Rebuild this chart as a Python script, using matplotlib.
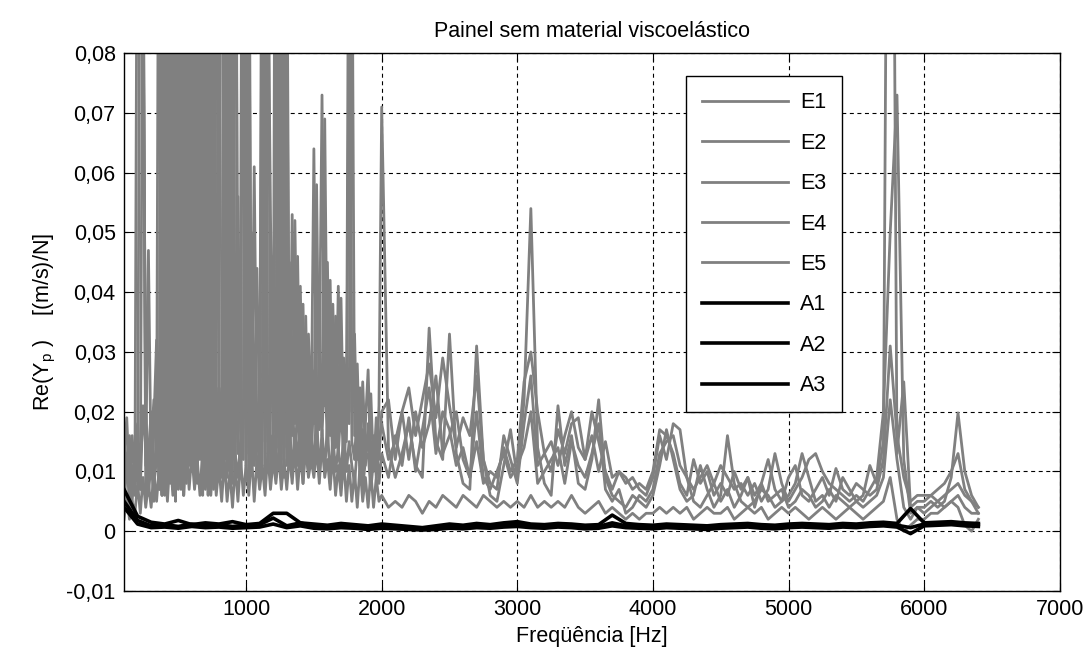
import numpy as np
import matplotlib
matplotlib.use("Agg")
import matplotlib.pyplot as plt

plt.rcParams['font.family'] = ['Liberation Sans', 'DejaVu Sans']
plt.rcParams['mathtext.fontset'] = 'custom'
plt.rcParams['mathtext.rm'] = 'Liberation Sans'
plt.rcParams['mathtext.it'] = 'Liberation Sans'

# frequency grids [Hz]: 20 Hz steps up to 2 kHz, 50 Hz above; A curves every 100 Hz
freq = np.concatenate([np.arange(100, 2000, 20), np.arange(2000, 6401, 50)])
freq_a = np.arange(100, 6401, 100)

e1 = [0.012, 0.019, 0.008, 0.011, 0.006,
      0.13, 0.16, 0.09, 0.021, 0.009,
      0.014, 0.022, 0.011, 0.15, 0.006,
      0.21, 0.008, 0.18, 0.007, 0.24,
      0.009, 0.19, 0.006, 0.22, 0.011,
      0.26, 0.008, 0.17, 0.012, 0.2,
      0.009, 0.23, 0.007, 0.15, 0.01,
      0.024, 0.011, 0.14, 0.009, 0.19,
      0.012, 0.16, 0.013, 0.048, 0.18,
      0.011, 0.12, 0.014, 0.061, 0.016,
      0.012, 0.14, 0.009, 0.1, 0.053,
      0.013, 0.17, 0.011, 0.13, 0.009,
      0.11, 0.014, 0.053, 0.018, 0.046,
      0.015, 0.038, 0.012, 0.033, 0.017,
      0.064, 0.019, 0.026, 0.073, 0.021,
      0.045, 0.016, 0.038, 0.014, 0.041,
      0.018, 0.029, 0.015, 0.13, 0.02,
      0.033, 0.012, 0.024, 0.01, 0.018,
      0.027, 0.011, 0.016, 0.009, 0.021,
      # 2000 Hz ->
      0.071, 0.014, 0.009, 0.013, 0.018, 0.011, 0.009, 0.034, 0.015, 0.012,
      0.033, 0.013, 0.008, 0.007, 0.031, 0.012, 0.006, 0.005, 0.011, 0.017,
      0.009, 0.022, 0.054, 0.014, 0.008, 0.006, 0.021, 0.011, 0.016, 0.008,
      0.007, 0.012, 0.022, 0.009, 0.006, 0.005, 0.004, 0.006, 0.005, 0.004,
      0.006, 0.011, 0.017, 0.012, 0.007, 0.005, 0.006, 0.011, 0.007, 0.004,
      0.006, 0.016, 0.008, 0.005, 0.004, 0.005, 0.007, 0.006, 0.004, 0.005,
      0.006, 0.008, 0.013, 0.009, 0.005, 0.006, 0.004, 0.006, 0.005, 0.004,
      0.005, 0.006, 0.011, 0.008, 0.015, 0.21, 0.013, 0.025, 0.004, 0.005,
      0.005, 0.006, 0.005, 0.006, 0.007, 0.008, 0.006, 0.005, 0.004]

e2 = [0.018, 0.009, 0.014, 0.005, 0.012,
      0.008, 0.12, 0.1, 0.011, 0.047,
      0.009, 0.018, 0.032, 0.007, 0.19,
      0.006, 0.2, 0.008, 0.17, 0.005,
      0.23, 0.007, 0.21, 0.009, 0.18,
      0.01, 0.25, 0.008, 0.19, 0.012,
      0.21, 0.006, 0.16, 0.011, 0.14,
      0.009, 0.17, 0.012, 0.21, 0.01,
      0.15, 0.011, 0.056, 0.017, 0.012,
      0.14, 0.013, 0.05, 0.015, 0.044,
      0.018, 0.011, 0.16, 0.012, 0.021,
      0.046, 0.013, 0.15, 0.01, 0.12,
      0.014, 0.045, 0.016, 0.052, 0.019,
      0.041, 0.014, 0.036, 0.011, 0.029,
      0.018, 0.058, 0.017, 0.021, 0.069,
      0.02, 0.042, 0.013, 0.036, 0.017,
      0.039, 0.014, 0.022, 0.018, 0.11,
      0.016, 0.028, 0.011, 0.025, 0.013,
      0.014, 0.023, 0.01, 0.019, 0.012,
      # 2000 Hz ->
      0.02, 0.022, 0.012, 0.02, 0.012, 0.02, 0.014, 0.018, 0.026, 0.013,
      0.016, 0.02, 0.012, 0.009, 0.015, 0.008, 0.01, 0.009, 0.014, 0.01,
      0.012, 0.025, 0.03, 0.02, 0.013, 0.015, 0.011, 0.016, 0.02, 0.014,
      0.012, 0.016, 0.01, 0.015, 0.009, 0.01, 0.008, 0.009, 0.007, 0.006,
      0.009, 0.016, 0.012, 0.018, 0.017, 0.009, 0.007, 0.009, 0.011, 0.008,
      0.011, 0.009, 0.007, 0.008, 0.006, 0.008, 0.005, 0.007, 0.013, 0.008,
      0.005, 0.007, 0.009, 0.012, 0.013, 0.01, 0.008, 0.007, 0.006, 0.005,
      0.006, 0.005, 0.007, 0.009, 0.02, 0.05, 0.073, 0.012, 0.003, 0.004,
      0.004, 0.005, 0.004, 0.005, 0.009, 0.0198, 0.01, 0.006, 0.004]

e3 = [0.007, 0.013, 0.004, 0.016, 0.009,
      0.015, 0.007, 0.11, 0.006, 0.013,
      0.02, 0.008, 0.012, 0.011, 0.13,
      0.012, 0.016, 0.14, 0.01, 0.15,
      0.013, 0.17, 0.011, 0.2, 0.014,
      0.16, 0.009, 0.22, 0.013, 0.18,
      0.011, 0.17, 0.012, 0.2, 0.008,
      0.015, 0.009, 0.018, 0.13, 0.012,
      0.11, 0.013, 0.009, 0.015, 0.13,
      0.009, 0.1, 0.012, 0.018, 0.011,
      0.013, 0.019, 0.12, 0.013, 0.016,
      0.011, 0.09, 0.014, 0.11, 0.01,
      0.09, 0.012, 0.024, 0.011, 0.022,
      0.012, 0.027, 0.013, 0.024, 0.011,
      0.024, 0.014, 0.031, 0.016, 0.028,
      0.014, 0.025, 0.011, 0.022, 0.013,
      0.021, 0.012, 0.017, 0.085, 0.015,
      0.012, 0.021, 0.009, 0.017, 0.011,
      0.018, 0.008, 0.014, 0.011, 0.015,
      # 2000 Hz ->
      0.018, 0.012, 0.015, 0.02, 0.024, 0.016, 0.022, 0.028, 0.019, 0.029,
      0.021, 0.014, 0.019, 0.016, 0.026, 0.012, 0.008, 0.007, 0.016, 0.012,
      0.008, 0.018, 0.026, 0.011, 0.013, 0.01, 0.017, 0.013, 0.018, 0.019,
      0.012, 0.02, 0.015, 0.01, 0.007, 0.01, 0.009, 0.007, 0.008, 0.007,
      0.01, 0.017, 0.016, 0.013, 0.008, 0.006, 0.012, 0.008, 0.01, 0.006,
      0.008, 0.006, 0.01, 0.007, 0.009, 0.006, 0.008, 0.012, 0.007, 0.005,
      0.009, 0.011, 0.006, 0.005, 0.007, 0.009, 0.006, 0.0105, 0.007, 0.006,
      0.008, 0.007, 0.006, 0.007, 0.012, 0.031, 0.016, 0.009, 0.005, 0.006,
      0.006, 0.006, 0.007, 0.008, 0.01, 0.013, 0.007, 0.005, 0.003]

e4 = [0.004, 0.011, 0.016, 0.006, 0.013,
      0.018, 0.007, 0.021, 0.014, 0.006,
      0.012, 0.005, 0.019, 0.007, 0.024,
      0.13, 0.009, 0.016, 0.2, 0.007,
      0.012, 0.027, 0.15, 0.008, 0.17,
      0.011, 0.016, 0.01, 0.18, 0.006,
      0.16, 0.012, 0.19, 0.007, 0.018,
      0.009, 0.015, 0.1, 0.011, 0.017,
      0.008, 0.14, 0.016, 0.01, 0.019,
      0.12, 0.008, 0.017, 0.011, 0.02,
      0.008, 0.11, 0.015, 0.13, 0.01,
      0.016, 0.009, 0.1, 0.012, 0.1,
      0.011, 0.019, 0.009, 0.017, 0.011,
      0.021, 0.008, 0.018, 0.01, 0.016,
      0.011, 0.02, 0.009, 0.017, 0.01,
      0.018, 0.008, 0.016, 0.01, 0.014,
      0.009, 0.017, 0.01, 0.015, 0.011,
      0.008, 0.014, 0.016, 0.007, 0.012,
      0.013, 0.007, 0.012, 0.016, 0.008,
      # 2000 Hz ->
      0.013, 0.009, 0.016, 0.011, 0.019, 0.01, 0.017, 0.024, 0.013, 0.02,
      0.017, 0.011, 0.014, 0.009, 0.02, 0.009, 0.007, 0.01, 0.013, 0.009,
      0.011, 0.014, 0.02, 0.008, 0.01, 0.012, 0.014, 0.008, 0.015, 0.011,
      0.009, 0.013, 0.018, 0.007, 0.005, 0.007, 0.003, 0.004, 0.006, 0.005,
      0.007, 0.013, 0.015, 0.016, 0.011, 0.009, 0.005, 0.004, 0.006, 0.008,
      0.005, 0.007, 0.004, 0.006, 0.009, 0.004, 0.008, 0.005, 0.006, 0.007,
      0.004, 0.005, 0.007, 0.006, 0.004, 0.005, 0.007, 0.005, 0.009, 0.007,
      0.005, 0.004, 0.005, 0.006, 0.009, 0.022, 0.012, 0.004, 0.002, 0.004,
      0.003, 0.004, 0.005, 0.004, 0.005, 0.006, 0.004, 0.003, 0.003]

e5 = [0.002, 0.006, 0.002, 0.005, 0.003,
      0.008, 0.003, 0.009, 0.004, 0.008,
      0.004, 0.01, 0.005, 0.011, 0.006,
      0.012, 0.005, 0.013, 0.006, 0.012,
      0.007, 0.013, 0.006, 0.014, 0.007,
      0.013, 0.007, 0.012, 0.006, 0.014,
      0.007, 0.012, 0.006, 0.013, 0.006,
      0.011, 0.005, 0.012, 0.005, 0.01,
      0.004, 0.011, 0.005, 0.012, 0.006,
      0.011, 0.006, 0.013, 0.005, 0.012,
      0.007, 0.011, 0.006, 0.013, 0.007,
      0.012, 0.008, 0.013, 0.007, 0.012,
      0.007, 0.013, 0.008, 0.014, 0.007,
      0.013, 0.008, 0.014, 0.009, 0.012,
      0.009, 0.014, 0.008, 0.015, 0.009,
      0.012, 0.007, 0.013, 0.006, 0.011,
      0.006, 0.012, 0.005, 0.011, 0.005,
      0.01, 0.004, 0.011, 0.005, 0.009,
      0.004, 0.01, 0.004, 0.009, 0.005,
      # 2000 Hz ->
      0.006, 0.004, 0.005, 0.004, 0.006, 0.005, 0.003, 0.005, 0.004, 0.006,
      0.005, 0.004, 0.006, 0.005, 0.004, 0.006, 0.005, 0.004, 0.005, 0.004,
      0.005, 0.004, 0.006, 0.004, 0.005, 0.004, 0.005, 0.004, 0.006, 0.004,
      0.003, 0.004, 0.005, 0.003, 0.004, 0.003, 0.002, 0.003, 0.002, 0.003,
      0.003, 0.004, 0.003, 0.004, 0.003, 0.004, 0.002, 0.003, 0.004, 0.003,
      0.003, 0.004, 0.002, 0.003, 0.004, 0.003, 0.004, 0.002, 0.003, 0.004,
      0.003, 0.004, 0.003, 0.002, 0.003, 0.004, 0.003, 0.002, 0.003, 0.004,
      0.003, 0.002, 0.003, 0.004, 0.005, 0.009, 0.002, 0.0, 0.001, 0.002,
      0.002, 0.003, 0.003, 0.004, 0.005, 0.004, 0.001, 0.0, 0.002]

# Re(Yp) for the three A measurements
a1 = [0.007, 0.0025, 0.0015, 0.0012, 0.0018, 0.0011, 0.0014, 0.0012, 0.0016, 0.0011,
      0.0013, 0.003, 0.003, 0.0014, 0.0012, 0.001, 0.0013, 0.0011, 0.0009, 0.0012,
      0.001, 0.0008, 0.0006, 0.0009, 0.0012, 0.001, 0.0013, 0.0011, 0.0014, 0.0016,
      0.0012, 0.0011, 0.0013, 0.0012, 0.001, 0.0011, 0.0027, 0.0013, 0.0011, 0.001,
      0.0012, 0.0011, 0.001, 0.0009, 0.0011, 0.0012, 0.0013, 0.0011, 0.001, 0.0012,
      0.0013, 0.0012, 0.0011, 0.0013, 0.0012, 0.0014, 0.0015, 0.0013, 0.0038, 0.0014,
      0.0015, 0.0016, 0.0014, 0.0013]
a2 = [0.005, 0.0018, 0.0009, 0.0011, 0.0008, 0.0012, 0.0009, 0.0011, 0.0008, 0.001,
      0.0011, 0.0022, 0.0009, 0.0014, 0.0008, 0.0007, 0.0009, 0.0008, 0.0006, 0.0009,
      0.0007, 0.0005, 0.0004, 0.0006, 0.0008, 0.0007, 0.0009, 0.0008, 0.001, 0.0012,
      0.0009, 0.0008, 0.001, 0.0009, 0.0007, 0.0008, 0.0014, 0.0009, 0.0008, 0.0007,
      0.0009, 0.0008, 0.0007, 0.0006, 0.0008, 0.0009, 0.001, 0.0008, 0.0007, 0.0009,
      0.001, 0.0009, 0.0008, 0.001, 0.0009, 0.0011, 0.0012, 0.001, 0.0006, 0.0012,
      0.0013, 0.0014, 0.0012, 0.0011]
a3 = [0.004, 0.0012, 0.0006, 0.0007, 0.0005, 0.0008, 0.0006, 0.0007, 0.0005, 0.0006,
      0.0007, 0.0012, 0.0006, 0.0009, 0.0005, 0.0004, 0.0006, 0.0005, 0.0003, 0.0005,
      0.0004, 0.0003, 0.0002, 0.0003, 0.0005, 0.0004, 0.0006, 0.0005, 0.0007, 0.0008,
      0.0006, 0.0005, 0.0007, 0.0006, 0.0004, 0.0005, 0.0009, 0.0006, 0.0005, 0.0004,
      0.0006, 0.0005, 0.0004, 0.0003, 0.0005, 0.0006, 0.0007, 0.0005, 0.0004, 0.0006,
      0.0007, 0.0006, 0.0005, 0.0007, 0.0006, 0.0008, 0.0009, 0.0007, -0.0004, 0.0009,
      0.001, 0.0011, 0.0009, 0.0008]

e_labels = ['E1', 'E2', 'E3', 'E4', 'E5']
a_labels = ['A1', 'A2', 'A3']

xticks = [1000, 2000, 3000, 4000, 5000, 6000, 7000]
yticks = [-0.01, 0, 0.01, 0.02, 0.03, 0.04, 0.05, 0.06, 0.07, 0.08]
ytick_labels = ['-0,01', '0', '0,01', '0,02', '0,03', '0,04', '0,05', '0,06', '0,07', '0,08']

fs = 15.5
fig = plt.figure(figsize=(10.88, 6.57), dpi=100)
ax = fig.add_axes([0.114, 0.1005, 0.86, 0.8185])

for y, lab in zip([e1, e2, e3, e4, e5], e_labels):
    ax.plot(freq, y, color='#808080', lw=2.0, label=lab)
for y, lab in zip([a1, a2, a3], a_labels):
    ax.plot(freq_a, y, color='black', lw=2.6, label=lab)

ax.set_xlim(100, 7000)
ax.set_ylim(-0.01, 0.08)
ax.set_xticks(xticks)
ax.set_xticklabels([str(t) for t in xticks])
ax.set_yticks(yticks)
ax.set_yticklabels(ytick_labels)
ax.tick_params(direction='in', top=True, right=True, length=6, width=0.8,
               labelsize=fs, pad=6, colors='black')
for s in ax.spines.values():
    s.set_linewidth(1.0)

ax.grid(True, color='black', linestyle=(0, (3.6, 3.2)), lw=0.8)

ax.set_title('Painel sem material viscoelástico', fontsize=fs, pad=12)
ax.set_xlabel('Freqüência [Hz]', fontsize=fs, labelpad=4)
ax.set_ylabel('Re(Y$_{p}$ )    [(m/s)/N]', fontsize=fs, labelpad=6)

leg = ax.legend(loc='upper left', bbox_to_anchor=(0.6004, 0.957), fontsize=fs,
                frameon=True, fancybox=False, framealpha=1, edgecolor='black',
                handlelength=4.0, handletextpad=0.55, labelspacing=0.9,
                borderpad=0.75, borderaxespad=0)
leg.get_frame().set_linewidth(1.0)

fig.savefig('out.png', dpi=100)
